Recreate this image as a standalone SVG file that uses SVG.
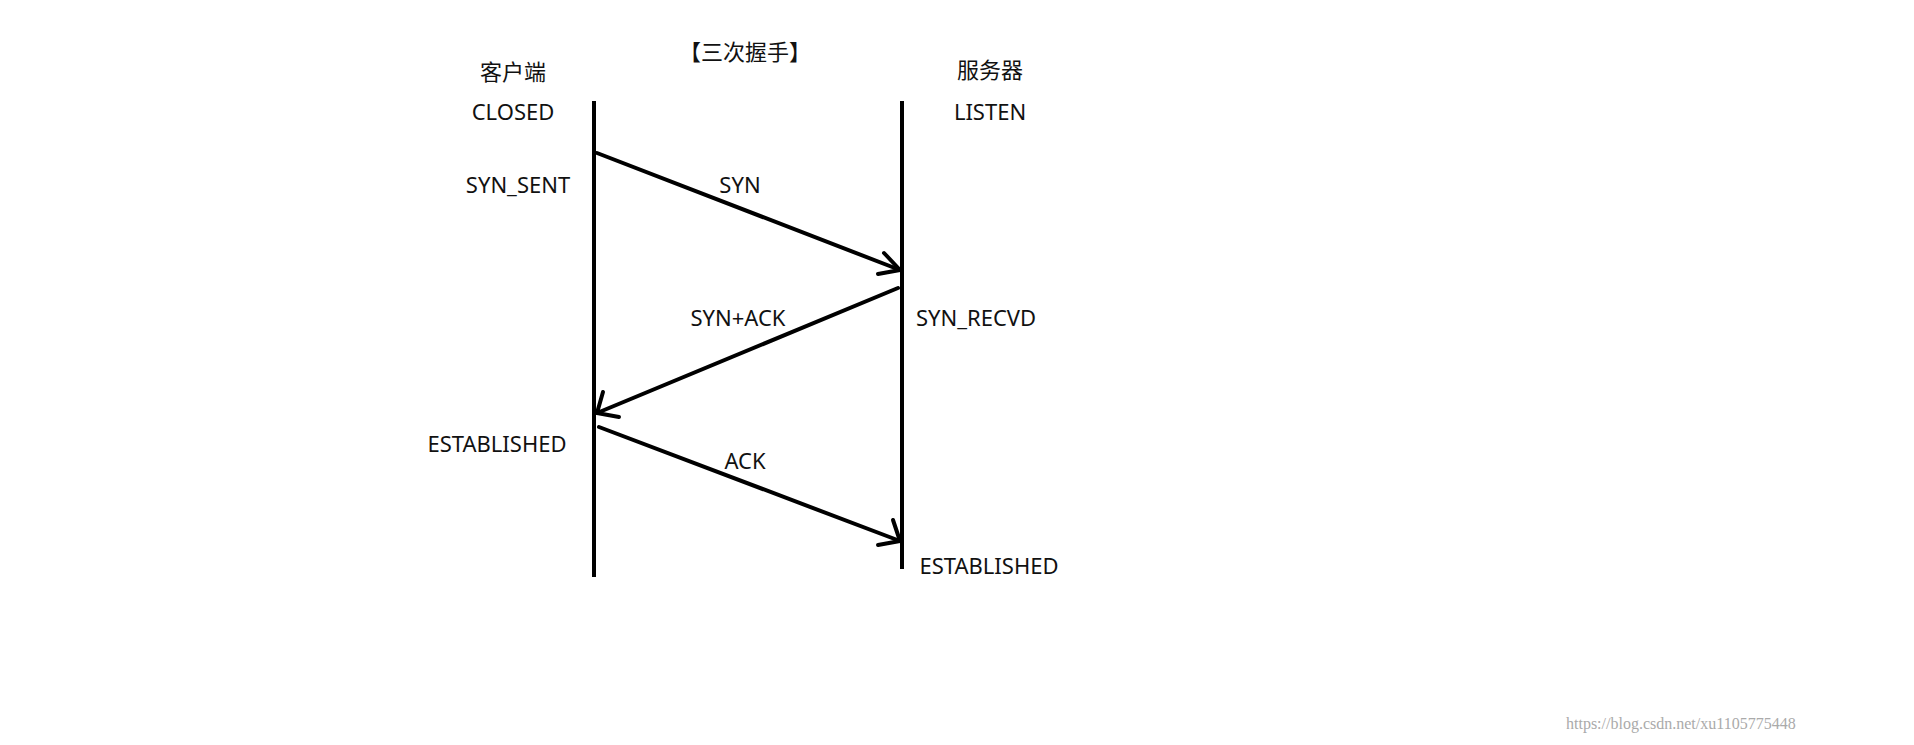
<svg xmlns="http://www.w3.org/2000/svg" width="1914" height="745" viewBox="0 0 1914 745">
<style>
text{font-family:"Noto Sans","Noto Sans CJK SC",sans-serif;font-size:22px;fill:#111}
.m{text-anchor:middle}
.l{stroke:#000;stroke-width:4;fill:none}
.a{stroke:#000;stroke-width:4;fill:none;stroke-linecap:round;stroke-linejoin:round}
</style>
<defs>
<marker id="h" markerWidth="10" markerHeight="10" refX="9" refY="5" orient="auto" markerUnits="userSpaceOnUse" viewBox="0 0 10 10" overflow="visible">
<path d="M-8,-5 L9,5 L-8,15" transform="translate(0,0) scale(1.1)" style="stroke:#000;stroke-width:3;fill:none"/>
</marker>
</defs>
<rect width="1914" height="745" fill="#fff"/>
<g id="client"><line class="l" x1="594" y1="101" x2="594" y2="577"/><text class="m" x="513" y="80">客户端</text><text class="m" x="513" y="120">CLOSED</text><text class="m" x="518" y="193">SYN_SENT</text><text class="m" x="497" y="452">ESTABLISHED</text></g>
<g id="server"><line class="l" x1="902" y1="101" x2="902" y2="569"/><text class="m" x="990" y="78">服务器</text><text class="m" x="990" y="120">LISTEN</text><text x="916" y="326">SYN_RECVD</text><text class="m" x="989" y="574">ESTABLISHED</text></g>
<g id="title"><text class="m" x="745" y="60">【三次握手】</text></g>
<g id="connectors">
<line class="a" x1="597" y1="153" x2="900" y2="270"/>
<path class="a" d="M884,253 L900,270 L878,274"/>
<line class="a" x1="898" y1="288" x2="597" y2="413"/>
<path class="a" d="M603,392 L597,413 L619,417"/>
<line class="a" x1="599" y1="427" x2="900" y2="541"/>
<path class="a" d="M893,520 L900,541 L878,545"/>
<text class="m" x="740" y="193">SYN</text>
<text class="m" x="738" y="326">SYN+ACK</text>
<text class="m" x="745" y="469">ACK</text>
</g>
<text x="1566" y="729" style="font-family:'Liberation Serif',serif;font-size:16px;fill:#aaa">https://blog.csdn.net/xu1105775448</text>
</svg>
